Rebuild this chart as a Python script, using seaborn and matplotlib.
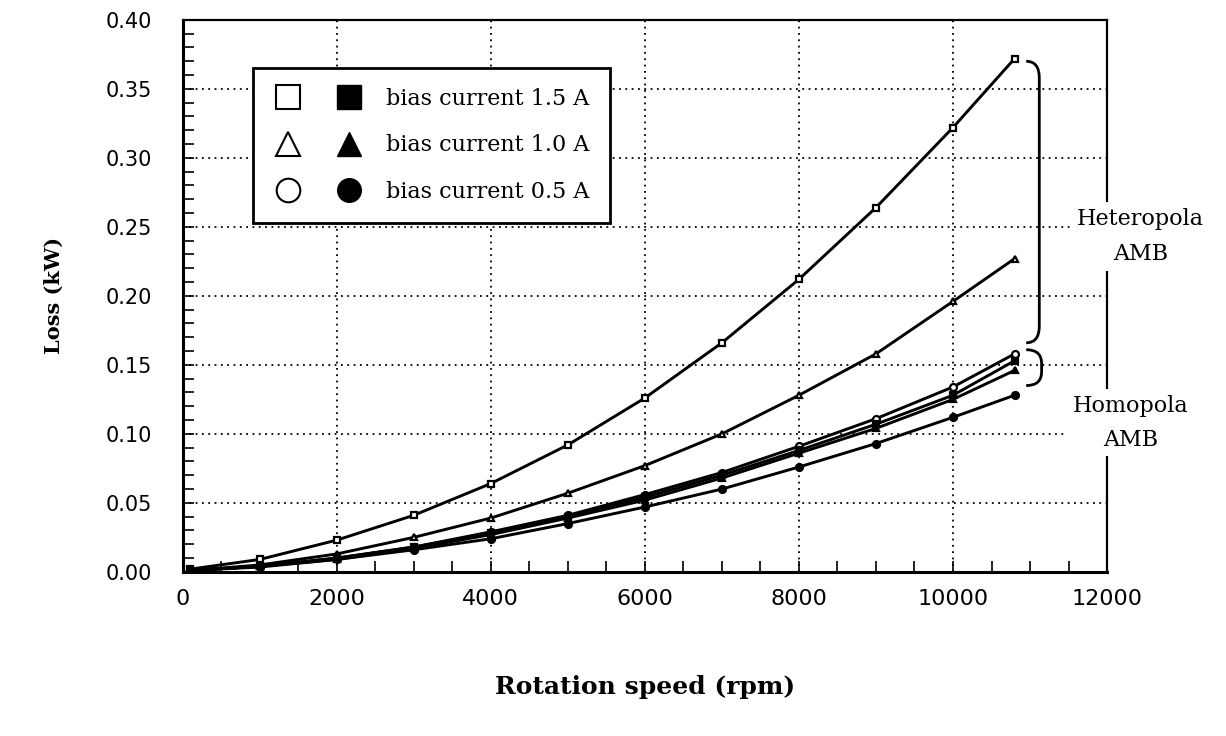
import numpy as np
import pandas as pd
import seaborn as sns
import matplotlib.pyplot as plt
from matplotlib.lines import Line2D
from matplotlib.legend_handler import HandlerTuple
from matplotlib.path import Path
from matplotlib.patches import PathPatch

# rotation speed (rpm) and loss (kW)
rpm = [100, 1000, 2000, 3000, 4000, 5000, 6000, 7000, 8000, 9000, 10000, 10800]
hetero_15 = [0.002, 0.009, 0.023, 0.041, 0.064, 0.092, 0.126, 0.166, 0.212, 0.264, 0.322, 0.372]
hetero_10 = [0.001, 0.005, 0.013, 0.025, 0.039, 0.057, 0.077, 0.100, 0.128, 0.158, 0.196, 0.227]
hetero_05 = [0.001, 0.004, 0.010, 0.018, 0.029, 0.041, 0.056, 0.072, 0.091, 0.111, 0.134, 0.158]
homo_15 = [0.001, 0.004, 0.010, 0.018, 0.028, 0.040, 0.054, 0.070, 0.088, 0.107, 0.128, 0.153]
homo_10 = [0.001, 0.004, 0.009, 0.017, 0.027, 0.039, 0.052, 0.068, 0.086, 0.104, 0.125, 0.146]
homo_05 = [0.001, 0.0035, 0.009, 0.016, 0.024, 0.035, 0.047, 0.060, 0.076, 0.093, 0.112, 0.128]

legend_labels = ["bias current 1.5 A", "bias current 1.0 A", "bias current 0.5 A"]
legend_markers = ["s", "^", "o"]
x_ticks = [0, 2000, 4000, 6000, 8000, 10000, 12000]
y_ticks = [0.00, 0.05, 0.10, 0.15, 0.20, 0.25, 0.30, 0.35, 0.40]

sns.set_theme(style="white")
plt.rcParams['font.family'] = ['DejaVu Serif', 'DejaVu Sans']
plt.rcParams.update({'text.color': 'black', 'axes.labelcolor': 'black',
                     'xtick.color': 'black', 'ytick.color': 'black'})

fig = plt.figure(figsize=(12.26, 7.36), dpi=100)
ax = fig.add_axes([0.149, 0.223, 0.754, 0.75])

series = [
    (hetero_15, "s", "white"),
    (hetero_10, "^", "white"),
    (hetero_05, "o", "white"),
    (homo_15, "s", "black"),
    (homo_10, "^", "black"),
    (homo_05, "o", "black"),
]
for vals, mk, face in series:
    sns.lineplot(x=rpm, y=vals, ax=ax, color="black", linewidth=2.1,
                 marker=mk, markersize=5, markerfacecolor=face,
                 markeredgecolor="black", markeredgewidth=1.6, zorder=3)

ax.set_xlim(0, 12000)
ax.set_ylim(0, 0.40)
ax.set_xticks(x_ticks)
ax.set_yticks(y_ticks)
ax.set_xticks(np.arange(0, 12001, 500), minor=True)
ax.set_yticks(np.arange(0, 0.401, 0.01), minor=True)
ax.set_xticklabels([str(t) for t in x_ticks], family=['Liberation Sans Narrow', 'DejaVu Sans'], fontsize=16)
ax.set_yticklabels(["%.2f" % t for t in y_ticks], family=['DejaVu Sans'], fontsize=15)
ax.tick_params(which='both', direction='in', length=8, width=1.2, color='black',
               left=True, bottom=True, top=False, right=False)
ax.tick_params(axis='y', pad=22)
ax.tick_params(axis='x', pad=12)
ax.grid(True, which='major', color='black', linestyle=(0, (1, 2.5)), linewidth=1.3)

for side in ['left', 'bottom']:
    ax.spines[side].set_linewidth(2.2)
for side in ['top', 'right']:
    ax.spines[side].set_linewidth(1.6)
for sp in ax.spines.values():
    sp.set_color('black')

ax.set_xlabel("Rotation speed (rpm)", fontsize=18, fontweight='bold', labelpad=48)
ax.set_ylabel("Loss (kW)", fontsize=15, fontweight='bold', labelpad=30)

# legend: open and filled symbol per bias current
handles = []
for mk in legend_markers:
    h_open = Line2D([], [], linestyle='none', marker=mk, markersize=17,
                    markerfacecolor='white', markeredgecolor='black', markeredgewidth=1.5)
    h_fill = Line2D([], [], linestyle='none', marker=mk, markersize=17,
                    markerfacecolor='black', markeredgecolor='black')
    handles.append((h_open, h_fill))
leg = ax.legend(handles, legend_labels, handler_map={tuple: HandlerTuple(ndivide=None, pad=1.35)},
                loc='upper left', bbox_to_anchor=(0.076, 0.913), borderaxespad=0,
                fontsize=16, handlelength=4.1, handletextpad=1.0, labelspacing=1.1,
                borderpad=0.9, frameon=True, fancybox=False, framealpha=1, edgecolor='black')
leg.get_frame().set_linewidth(2.0)
leg.set_zorder(6)

# brackets grouping the two machine types
def bracket(x0, x1, ytop, ybot, curl):
    verts = [(x0, ytop), (x1, ytop), (x1, ytop - curl), (x1, ybot + curl),
             (x1, ybot), (x0, ybot)]
    codes = [Path.MOVETO, Path.CURVE3, Path.CURVE3, Path.LINETO, Path.CURVE3, Path.CURVE3]
    ax.add_patch(PathPatch(Path(verts, codes), facecolor='none', edgecolor='black',
                           linewidth=2.0, clip_on=False, zorder=4))

bracket(10950, 11120, 0.370, 0.166, 0.012)
bracket(10950, 11150, 0.161, 0.135, 0.010)

box = dict(facecolor='white', edgecolor='none', pad=4)
ax.text(12430, 0.243, "Heteropola\nAMB", ha='center', va='center', fontsize=16,
        linespacing=1.8, bbox=box, clip_on=False, zorder=7)
ax.text(12300, 0.108, "Homopola\nAMB", ha='center', va='center', fontsize=16,
        linespacing=1.7, bbox=box, clip_on=False, zorder=7)

fig.savefig("out.png", dpi=100)
